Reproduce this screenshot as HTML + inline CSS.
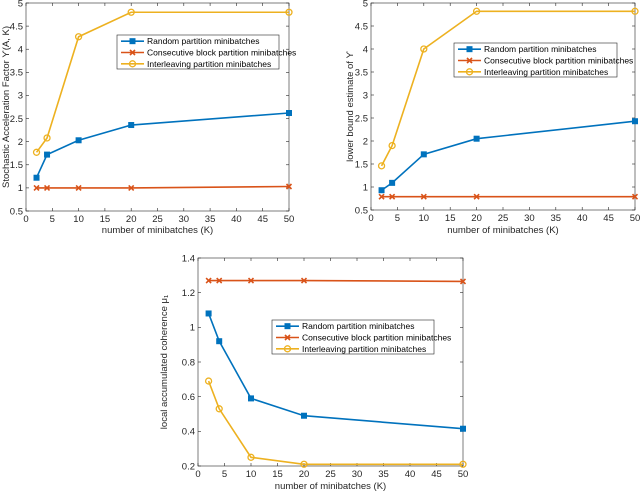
<!DOCTYPE html>
<html><head><meta charset="utf-8"><style>
body{margin:0;background:#fff;}
svg{display:block;font-family:"Liberation Sans",sans-serif;}
</style></head><body>
<svg id="chart" width="640" height="492" viewBox="0 0 640 492"></svg>
<script>
const kValues=[2,4,10,20,50];
const seriesNames=["Random partition minibatches","Consecutive block partition minibatches","Interleaving partition minibatches"];
const p1Random=[1.22,1.72,2.03,2.36,2.62];
const p1Consec=[1.0,1.0,1.0,1.0,1.03];
const p1Inter=[1.77,2.08,4.27,4.8,4.8];
const p2Random=[0.93,1.09,1.71,2.05,2.43];
const p2Consec=[0.79,0.79,0.79,0.79,0.79];
const p2Inter=[1.46,1.9,4.0,4.82,4.82];
const p3Random=[1.08,0.92,0.59,0.49,0.415];
const p3Consec=[1.27,1.27,1.27,1.27,1.265];
const p3Inter=[0.69,0.53,0.25,0.21,0.21];
const xTicks=[0,5,10,15,20,25,30,35,40,45,50];
const yTicks12=[0.5,1,1.5,2,2.5,3,3.5,4,4.5,5];
const yTicks3=[0.2,0.4,0.6,0.8,1,1.2,1.4];

const NS="http://www.w3.org/2000/svg";
const svg=document.getElementById('chart');
const colors=["#0072BD","#D95319","#EDB120"];
function mk(tag,attrs,parent){const e=document.createElementNS(NS,tag);for(const k in attrs)e.setAttribute(k,attrs[k]);(parent||svg).appendChild(e);return e;}

function drawPlot(cfg){
  const g=mk('g',{});
  
  
  const {L,R,T,B,ymin,ymax,yt}=cfg;
  const sx=v=>L+(v-0)/(50-0)*(R-L);
  const sy=v=>B-(v-ymin)/(ymax-ymin)*(B-T);
  const box=mk('rect',{x:L,y:T,width:R-L,height:B-T,fill:'#fff',stroke:'#262626','stroke-width':0.6},g);
  
  
  xTicks.forEach(t=>{
    const x=sx(t);
    mk('line',{x1:x,x2:x,y1:B,y2:B-3,stroke:'#262626','stroke-width':0.6},g);
    mk('line',{x1:x,x2:x,y1:T,y2:T+3,stroke:'#262626','stroke-width':0.6},g);
    const tx=mk('text',{x:x,y:B+11,'font-size':9.5,'text-anchor':'middle',fill:'#262626'},g);
    tx.textContent=t;
    
    
  });
  yt.forEach(t=>{
    const y=sy(t);
    mk('line',{x1:L,x2:L+3,y1:y,y2:y,stroke:'#262626','stroke-width':0.6},g);
    mk('line',{x1:R,x2:R-3,y1:y,y2:y,stroke:'#262626','stroke-width':0.6},g);
    const ty=mk('text',{x:L-3,y:y+3.3,'font-size':9.5,'text-anchor':'end',fill:'#262626'},g);
    ty.textContent=t;
    
    
  });
  const xl=mk('text',{x:(L+R)/2,y:cfg.xlY,'font-size':9.5,'text-anchor':'middle',fill:'#262626'},g);
  xl.textContent='number of minibatches (K)';
  
  
  const yl=mk('text',{x:0,y:0,'font-size':9.5,'text-anchor':'middle',fill:'#262626',transform:`translate(${cfg.ylX},${(T+B)/2}) rotate(-90)`},g);
  yl.textContent=cfg.ylabel;
  
  
  cfg.series.forEach((vals,i)=>{
    const pts=kValues.map((k,j)=>[sx(k),sy(vals[j])]);
    const pl=mk('polyline',{points:pts.map(p=>p.join(',')).join(' '),fill:'none',stroke:colors[i],'stroke-width':1.6},g);
    
    
    pts.forEach(p=>marker(g,i,p[0],p[1]));
  });
  const lg=mk('g',{},g);
  
  
  const [lx,ly,lw,lh]=cfg.legend;
  mk('rect',{x:lx,y:ly,width:lw,height:lh,fill:'#fff',stroke:'#262626','stroke-width':0.6},lg);
  seriesNames.forEach((n,i)=>{
    const yy=ly+lh*(i+0.5)/3+0.5;
    mk('line',{x1:lx+4,x2:lx+27,y1:yy,y2:yy,stroke:colors[i],'stroke-width':1.6},lg);
    marker(lg,i,lx+15.5,yy);
    const t=mk('text',{x:lx+30,y:yy+3,'font-size':8.5,fill:'#000'},lg);
    t.textContent=n;
    
    
  });
}
function marker(g,i,x,y){
  if(i===0){mk('rect',{x:x-2.5,y:y-2.5,width:5,height:5,fill:colors[0],stroke:colors[0]},g);}
  else if(i===1){
    mk('path',{d:`M${x-2.5},${y-2.5}L${x+2.5},${y+2.5}M${x-2.5},${y+2.5}L${x+2.5},${y-2.5}`,stroke:colors[1],'stroke-width':1.6},g);
  } else {mk('circle',{cx:x,cy:y,r:3,fill:'none',stroke:colors[2],'stroke-width':1.3},g);}
}
drawPlot({name:'plot-acceleration-factor',L:26,R:289,T:3,B:211,ymin:0.5,ymax:5,yt:yTicks12,xlY:233,ylX:9,
  ylabel:'Stochastic Acceleration Factor ϒ(A, K)',series:[p1Random,p1Consec,p1Inter],legend:[117,35,162,34]});
drawPlot({name:'plot-lower-bound',L:371,R:635,T:3,B:210,ymin:0.5,ymax:5,yt:yTicks12,xlY:233,ylX:353,
  ylabel:'lower bound estimate of ϒ',series:[p2Random,p2Consec,p2Inter],legend:[454,43,163,34]});
drawPlot({name:'plot-coherence',L:198,R:463,T:258,B:466,ymin:0.2,ymax:1.4,yt:yTicks3,xlY:489,ylX:167,
  ylabel:'local accumulated coherence μ₁',series:[p3Random,p3Consec,p3Inter],legend:[272,320,162,34]});
</script>
</body></html>
